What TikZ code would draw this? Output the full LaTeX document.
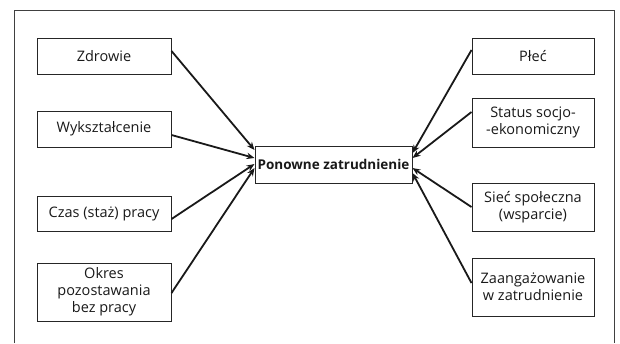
\documentclass[tikz,border=0pt]{standalone}
\usepackage{fontspec}
\setmainfont{Open Sans}
\usetikzlibrary{arrows.meta}
\begin{document}
\begin{tikzpicture}[x=1pt,y=-1pt,
  box/.style={draw=black!85,line width=1pt,align=center,inner sep=0pt,
    font=\fontsize{14.5}{17}\selectfont,text=black!90},
  arr/.style={line width=1.8pt,draw=black!90,-{Stealth[length=8pt,width=6.5pt]}}]
\useasboundingbox (0,0) rectangle (620,343);
\draw[line width=1pt,black!75] (14,343) -- (14,10) -- (614,10) -- (614,343);
\node[box,minimum width=157pt,minimum height=37pt,font=\fontsize{13.5}{17}\selectfont\bfseries] (c) at (333.5,164.5) {Ponowne zatrudnienie};
\node[box,minimum width=134pt,minimum height=36pt] (l1) at (104,56) {Zdrowie};
\node[box,minimum width=134pt,minimum height=36pt] (l2) at (104,129) {Wykształcenie};
\node[box,minimum width=134pt,minimum height=35pt] (l3) at (104,213.5) {Czas (staż) pracy};
\node[box,minimum width=134pt,minimum height=58pt] (l4) at (104,292) {Okres\\pozostawania\\bez pracy};
\node[box,minimum width=122pt,minimum height=36pt] (r1) at (533,56) {Płeć};
\node[box,minimum width=122pt,minimum height=49pt] (r2) at (533,122.5) {Status socjo-\\-ekonomiczny};
\node[box,minimum width=122pt,minimum height=48pt] (r3) at (533,207) {Sieć społeczna\\(wsparcie)};
\node[box,minimum width=122pt,minimum height=58pt] (r4) at (533,287) {Zaangażowanie\\w zatrudnienie};
\draw[arr] ([yshift=5pt]l1.east) -- ([yshift=14.5pt]c.west);
\draw[arr] ([yshift=-6pt]l2.east) -- ([yshift=6.5pt]c.west);
\draw[arr] ([yshift=-5.5pt]l3.east) -- ([yshift=0.5pt]c.west);
\draw[arr] ([yshift=-1pt]l4.east) -- ([yshift=-3.5pt]c.west);
\draw[arr] ([yshift=6pt]r1.west) -- ([yshift=11.5pt]c.east);
\draw[arr] ([yshift=10.5pt]r2.west) -- ([yshift=6.5pt]c.east);
\draw[arr] (r3.west) -- ([yshift=-3.5pt]c.east);
\draw[arr] ([yshift=4pt]r4.west) -- ([yshift=-8.5pt]c.east);
\end{tikzpicture}
\end{document}
